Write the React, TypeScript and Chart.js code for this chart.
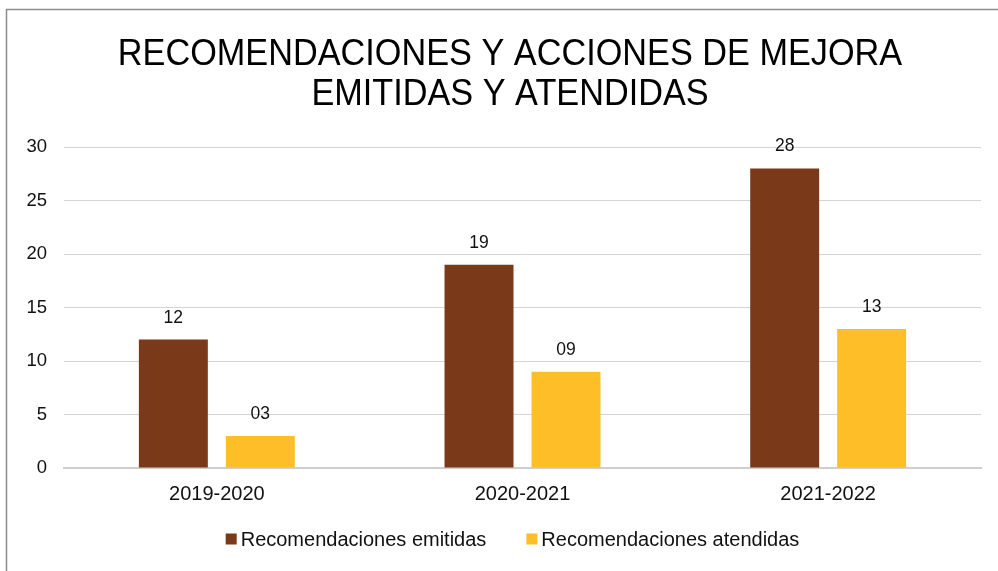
import React, { useEffect, useRef } from "react";
import { Chart, registerables } from "chart.js";

Chart.register(...registerables);

const categories = ["2019-2020", "2020-2021", "2021-2022"];
const emitidas = [12, 19, 28];
const atendidas = [3, 9, 13];
const yTicks = [0, 5, 10, 15, 20, 25, 30];
const seriesNames = ["Recomendaciones emitidas", "Recomendaciones atendidas"];
const titleLines = ["RECOMENDACIONES Y ACCIONES DE MEJORA", "EMITIDAS Y ATENDIDAS"];

const FONT = "'Liberation Sans', Arial, sans-serif";
const BROWN = "#7A3A19";
const YELLOW = "#FEBE28";

const frameTitleLabels = {
  id: "frameTitleLabels",
  beforeDraw(chart: any) {
    const ctx = chart.ctx;
    ctx.save();
    ctx.fillStyle = "#ffffff";
    ctx.fillRect(0, 0, chart.width, chart.height);
    ctx.strokeStyle = "#8c8c8c";
    ctx.lineWidth = 1.5;
    ctx.strokeRect(6.5, 9.5, chart.width + 20, chart.height + 20);
    // title (slightly condensed, as in the original)
    ctx.fillStyle = "#000000";
    ctx.font = `37px ${FONT}`;
    ctx.textAlign = "center";
    ctx.textBaseline = "alphabetic";
    const cx = 510;
    const baselines = [65, 105];
    titleLines.forEach((line, i) => {
      ctx.save();
      ctx.translate(cx, baselines[i]);
      ctx.scale(0.926, 1);
      ctx.fillText(line, 0, 0);
      ctx.restore();
    });
    ctx.restore();
  },
  afterDatasetsDraw(chart: any) {
    const ctx = chart.ctx;
    ctx.save();
    ctx.font = `17.5px ${FONT}`;
    ctx.fillStyle = "#111111";
    ctx.textAlign = "center";
    ctx.textBaseline = "bottom";
    chart.data.datasets.forEach((ds: any, i: number) => {
      const meta = chart.getDatasetMeta(i);
      meta.data.forEach((bar: any, j: number) => {
        const v = ds.data[j];
        ctx.fillText(String(v).padStart(2, "0"), bar.x, bar.y - 13);
      });
    });
    ctx.restore();
  },
  afterDraw(chart: any) {
    // legend: small squares tight against their labels
    const ctx = chart.ctx;
    ctx.save();
    ctx.font = `20px ${FONT}`;
    ctx.textBaseline = "middle";
    ctx.textAlign = "left";
    const box = 11;
    const textGap = 4;
    const itemGap = 40;
    const items = chart.data.datasets.map((ds: any) => ({
      label: ds.label,
      color: ds.backgroundColor,
      w: ctx.measureText(ds.label).width,
    }));
    const total = items.reduce((s: number, it: any) => s + box + textGap + it.w, 0) + itemGap * (items.length - 1);
    let x = 512.5 - total / 2;
    const y = 539;
    items.forEach((it: any) => {
      ctx.fillStyle = it.color;
      ctx.fillRect(x, y - box / 2, box, box);
      x += box + textGap;
      ctx.fillStyle = "#111111";
      ctx.fillText(it.label, x, y + 1);
      x += it.w + itemGap;
    });
    ctx.restore();
  },
};

export default function App() {
  const ref = useRef<HTMLCanvasElement | null>(null);
  useEffect(() => {
    if (!ref.current) return;
    const chart = new Chart(ref.current, {
      type: "bar",
      data: {
        labels: categories,
        datasets: [
          {
            label: seriesNames[0],
            data: emitidas,
            backgroundColor: BROWN,
            categoryPercentage: 0.569,
            barPercentage: 0.793,
          },
          {
            label: seriesNames[1],
            data: atendidas,
            backgroundColor: YELLOW,
            categoryPercentage: 0.569,
            barPercentage: 0.793,
          },
        ],
      },
      options: {
        responsive: false,
        animation: false,
        devicePixelRatio: 1,
        layout: { padding: { left: 8, right: 17, top: 147, bottom: 59 } },
        plugins: {
          title: { display: false },
          legend: { display: false },
          tooltip: { enabled: false },
        },
        scales: {
          x: {
            grid: { display: false },
            border: { display: true, color: "#cfcfcf", width: 2 },
            ticks: { color: "#111111", font: { family: FONT, size: 20 }, padding: 6 },
          },
          y: {
            min: 0,
            max: 30,
            afterBuildTicks: (scale: any) => {
              scale.ticks = yTicks.map((v) => ({ value: v }));
            },
            afterFit: (scale: any) => {
              scale.width = 56;
            },
            grid: { color: "#d4d4d4", lineWidth: 1, drawTicks: false },
            border: { display: false },
            ticks: { color: "#111111", font: { family: FONT, size: 18.5 }, padding: 17 },
          },
        },
      },
      plugins: [frameTitleLabels],
    } as any);
    return () => chart.destroy();
  }, []);
  return (
    <div style={{ position: "fixed", left: 0, top: 0, width: 998, height: 571, background: "#fff" }}>
      <canvas ref={ref} width={998} height={571} style={{ display: "block" }} />
    </div>
  );
}
